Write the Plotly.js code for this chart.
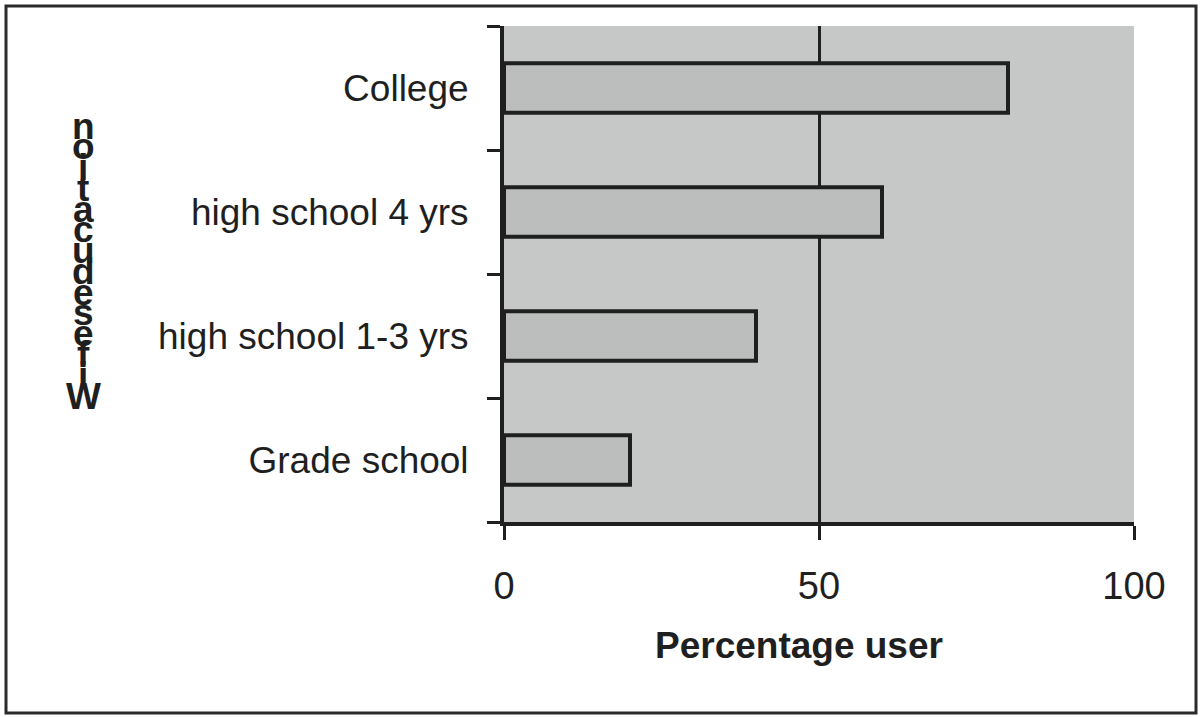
<!DOCTYPE html>
<html>
<head>
<meta charset="utf-8">
<script src="https://cdn.plot.ly/plotly-3.0.1.min.js"></script>
<style>
html,body{margin:0;padding:0;background:#fff;}
#chart{width:1202px;height:717px;}
</style>
</head>
<body>
<div id="chart"></div>
<script>
// Data
const categories = ["Grade school", "high school 1-3 yrs", "high school 4 yrs", "College"];
const percentUser = [20, 40, 60, 80];
const xTickVals = [0, 50, 100];
const xTickText = ["0", "50", "100"];
const xTitle = "Percentage user";
const yTitle = "Wifes education";

const FONT = "Liberation Sans, Arial, sans-serif";
const INK = "#1f1f1f";

// stacked y title letters (reversed, top to bottom), as in the scan
const letters = yTitle.replace(/ /g, "").split("").reverse();
const topPx = 126, botPx = 396, axTop = 26, axBot = 522;
const annotations = letters.map((ch, i) => {
  const px = topPx + (botPx - topPx) * i / (letters.length - 1);
  return {
    text: ch, xref: "paper", yref: "paper",
    x: (83 - 504) / 630, y: (axBot - px) / (axBot - axTop),
    xanchor: "center", yanchor: "middle", showarrow: false,
    font: {family: FONT, size: 37, color: INK, weight: "bold"}
  };
});
annotations.push({
  text: "<b>" + xTitle + "</b>", xref: "paper", yref: "paper",
  x: (799 - 504) / 630, y: (axBot - 645) / (axBot - axTop),
  xanchor: "center", yanchor: "middle", showarrow: false,
  font: {family: FONT, size: 37, color: INK}
});

const trace = {
  type: "bar", orientation: "h",
  y: categories, x: percentUser,
  marker: {color: "#bcbebe", line: {color: INK, width: 4}},
  hoverinfo: "skip"
};

const layout = {
  width: 1202, height: 717,
  margin: {l: 504, r: 68, t: 26, b: 195, pad: 0},
  paper_bgcolor: "#ffffff",
  plot_bgcolor: "#c6c8c8",
  showlegend: false,
  bargap: 0.6,
  font: {family: FONT, color: INK},
  xaxis: {
    range: [0, 100], tickvals: xTickVals, ticktext: xTickText,
    showgrid: true, gridcolor: INK, gridwidth: 3,
    zeroline: false,
    showline: true, linecolor: INK, linewidth: 4,
    ticks: "outside", ticklen: 14, tickwidth: 3, tickcolor: INK,
    ticklabelstandoff: 13,
    tickfont: {family: FONT, size: 38, color: INK},
    fixedrange: true
  },
  yaxis: {
    categoryorder: "array", categoryarray: categories,
    showgrid: false, zeroline: false,
    showline: true, linecolor: INK, linewidth: 4,
    ticks: "outside", tickson: "boundaries", ticklen: 13, tickwidth: 3, tickcolor: INK,
    ticklabelstandoff: 24,
    tickfont: {family: FONT, size: 37, color: INK},
    fixedrange: true
  },
  annotations: annotations,
  shapes: [{
    type: "rect", xref: "paper", yref: "paper",
    x0: (6 - 504) / 630, x1: (1196 - 504) / 630,
    y0: (axBot - 713) / 496, y1: (axBot - 6) / 496,
    line: {color: "#2a2a2a", width: 3}, fillcolor: "rgba(0,0,0,0)", layer: "below"
  }]
};

Plotly.newPlot("chart", [trace], layout, {displayModeBar: false, staticPlot: true});
</script>
</body>
</html>
